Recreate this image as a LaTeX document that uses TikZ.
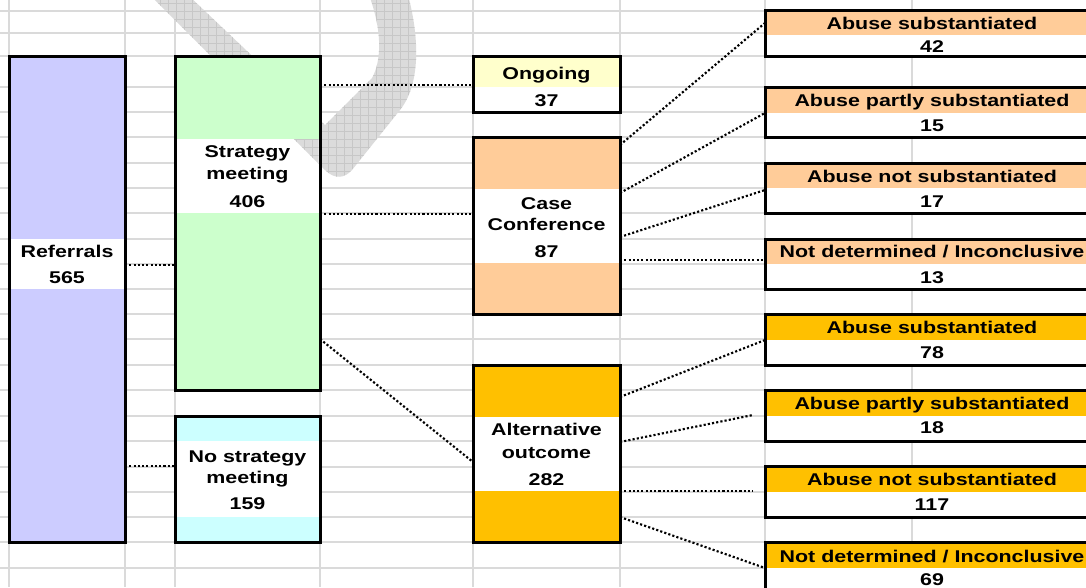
\documentclass[tikz,border=0pt]{standalone}
\usepackage{fontspec}
\setmainfont{Liberation Sans}[FakeStretch=1.26]
\usetikzlibrary{patterns.meta}
\definecolor{lav}{HTML}{CCCCFF}
\definecolor{mint}{HTML}{CCFFCC}
\definecolor{aqua}{HTML}{CCFFFF}
\definecolor{cream}{HTML}{FFFFCC}
\definecolor{peach}{HTML}{FFCC99}
\definecolor{gold}{HTML}{FFC000}
\definecolor{gridgray}{HTML}{DADADA}
\newcommand\wmpath{(150,-5) -- (325,170) .. controls (335,180) and (345,178) .. (352,170)
  -- (400,110) .. controls (420,85) and (420,40) .. (408,-5) -- (369,-5)
  .. controls (382,30) and (382,60) .. (372,78) -- (325,125) -- (188,-5) -- cycle}
\begin{document}
\begin{tikzpicture}[x=0.75pt,y=-0.75pt,
  box/.style={draw=black, line width=2.25pt, rectangle, inner sep=0pt, outer sep=0pt, anchor=north west},
  txt/.style={font=\fontsize{12.75}{15}\selectfont\bfseries, inner sep=0pt, anchor=base},
  conn/.style={line width=1.6pt, dash pattern=on 1.6pt off 1.6pt},
  gridline/.style={draw=gridgray, line width=1.1pt},
  wmark/.style={opacity=0.8, preaction={fill=black!14}, pattern={Hatch[angle=0,distance=6pt,line width=0.5pt]}, pattern color=black!24}]
\useasboundingbox (0,0) rectangle (1086,587);
\clip (0,0) rectangle (1086,587);
\fill[white] (0,0) rectangle (1086,587);
% spreadsheet grid
\foreach \gy in {11,33,56,87,112,137,163,188,213,239,264,289,314,339,365,390,416,441,467,492,517,542,568}
  \draw[gridline] (0,\gy) -- (1086,\gy);
\foreach \gx in {9,125,175,320,473,620,765,912}
  \draw[gridline] (\gx,0) -- (\gx,587);
% watermark
\path[wmark] \wmpath;
% left column
\node[box, fill=lav, minimum width=116*0.75pt, minimum height=486*0.75pt] (ref) at (9,56) {};
\fill[white] (10.5,239) rectangle (123.5,289);
\node[box, fill=mint, minimum width=145*0.75pt, minimum height=334*0.75pt] (strat) at (175,56) {};
\fill[white] (176.5,139) rectangle (318.5,213);
\begin{scope}
  \clip (176.5,139) rectangle (318.5,213);
  \path[wmark] \wmpath;
\end{scope}
\node[box, fill=aqua, minimum width=145*0.75pt, minimum height=126*0.75pt] (nostrat) at (175,416) {};
\fill[white] (176.5,441) rectangle (318.5,517);
% middle column
\node[box, fill=cream, minimum width=147*0.75pt, minimum height=56*0.75pt] (ong) at (473,56) {};
\fill[white] (474.5,87) rectangle (618.5,110.5);
\node[box, fill=peach, minimum width=147*0.75pt, minimum height=177*0.75pt] (cc) at (473,137) {};
\fill[white] (474.5,189) rectangle (618.5,263);
\node[box, fill=gold, minimum width=147*0.75pt, minimum height=177*0.75pt] (alt) at (473,365) {};
\fill[white] (474.5,417) rectangle (618.5,491);
% right column
\node[box, fill=white, minimum width=340*0.75pt, minimum height=46*0.75pt] (r1) at (765,10) {};
\fill[peach] (766.5,11.5) rectangle (1105,35);
\node[box, fill=white, minimum width=340*0.75pt, minimum height=50*0.75pt] (r2) at (765,87) {};
\fill[peach] (766.5,88.5) rectangle (1105,113);
\node[box, fill=white, minimum width=340*0.75pt, minimum height=50*0.75pt] (r3) at (765,163) {};
\fill[peach] (766.5,164.5) rectangle (1105,188);
\node[box, fill=white, minimum width=340*0.75pt, minimum height=50*0.75pt] (r4) at (765,239) {};
\fill[peach] (766.5,240.5) rectangle (1105,264);
\node[box, fill=white, minimum width=340*0.75pt, minimum height=51*0.75pt] (r5) at (765,314) {};
\fill[gold] (766.5,315.5) rectangle (1105,340);
\node[box, fill=white, minimum width=340*0.75pt, minimum height=51*0.75pt] (r6) at (765,390) {};
\fill[gold] (766.5,391.5) rectangle (1105,416);
\node[box, fill=white, minimum width=340*0.75pt, minimum height=51*0.75pt] (r7) at (765,466) {};
\fill[gold] (766.5,467.5) rectangle (1105,492);
\node[box, fill=white, minimum width=340*0.75pt, minimum height=60*0.75pt] (r8) at (765,542) {};
\fill[gold] (766.5,543.5) rectangle (1105,568);
% texts
\node[txt] (ref-a) at (67,257) {Referrals};
\node[txt] (ref-b) at (67,283) {565};
\node[txt] (strat-a) at (247.5,157) {Strategy};
\node[txt] (strat-b) at (247.5,179) {meeting};
\node[txt] (strat-c) at (247.5,207) {406};
\node[txt] (nostrat-a) at (247.5,462) {No strategy};
\node[txt] (nostrat-b) at (247.5,483) {meeting};
\node[txt] (nostrat-c) at (247.5,509) {159};
\node[txt] (ong-a) at (546.5,79) {Ongoing};
\node[txt] (ong-b) at (546.5,106) {37};
\node[txt] (cc-a) at (546.5,209) {Case};
\node[txt] (cc-b) at (546.5,230) {Conference};
\node[txt] (cc-c) at (546.5,257) {87};
\node[txt] (alt-a) at (546.5,435) {Alternative};
\node[txt] (alt-b) at (546.5,458) {outcome};
\node[txt] (alt-c) at (546.5,485) {282};
\node[txt] (r1-a) at (932,29) {Abuse substantiated};
\node[txt] (r1-b) at (932,52) {42};
\node[txt] (r2-a) at (932,106) {Abuse partly substantiated};
\node[txt] (r2-b) at (932,131) {15};
\node[txt] (r3-a) at (932,182) {Abuse not substantiated};
\node[txt] (r3-b) at (932,207) {17};
\node[txt] (r4-a) at (932,257) {Not determined / Inconclusive};
\node[txt] (r4-b) at (932,283) {13};
\node[txt] (r5-a) at (932,333) {Abuse substantiated};
\node[txt] (r5-b) at (932,358) {78};
\node[txt] (r6-a) at (932,409) {Abuse partly substantiated};
\node[txt] (r6-b) at (932,433) {18};
\node[txt] (r7-a) at (932,485) {Abuse not substantiated};
\node[txt] (r7-b) at (932,510) {117};
\node[txt] (r8-a) at (932,562) {Not determined / Inconclusive};
\node[txt] (r8-b) at (932,585.5) {69};
% connectors
\coordinate (e6) at (753,415);
\coordinate (e7) at (753,491);
\draw[conn] (ref.east |- 0,265) -- (strat.west |- 0,265);
\draw[conn] (ref.east |- 0,466) -- (nostrat.west |- 0,466);
\draw[conn] (strat.east |- 0,85) -- (ong.west |- 0,85);
\draw[conn] (strat.east |- 0,214) -- (cc.west |- 0,214);
\draw[conn] (strat.east |- 0,339) -- (alt.west |- 0,462);
\draw[conn] (cc.east |- 0,145) -- (r1.west |- 0,23);
\draw[conn] (cc.east |- 0,193) -- (r2.west |- 0,113);
\draw[conn] (cc.east |- 0,237) -- (r3.west |- 0,190);
\draw[conn] (cc.east |- 0,260) -- (r4.west |- 0,260);
\draw[conn] (alt.east |- 0,397) -- (r5.west |- 0,340);
\draw[conn] (alt.east |- 0,442) -- (e6);
\draw[conn] (alt.east |- 0,491) -- (e7);
\draw[conn] (alt.east |- 0,517) -- (r8.west |- 0,568);
\end{tikzpicture}
\end{document}
